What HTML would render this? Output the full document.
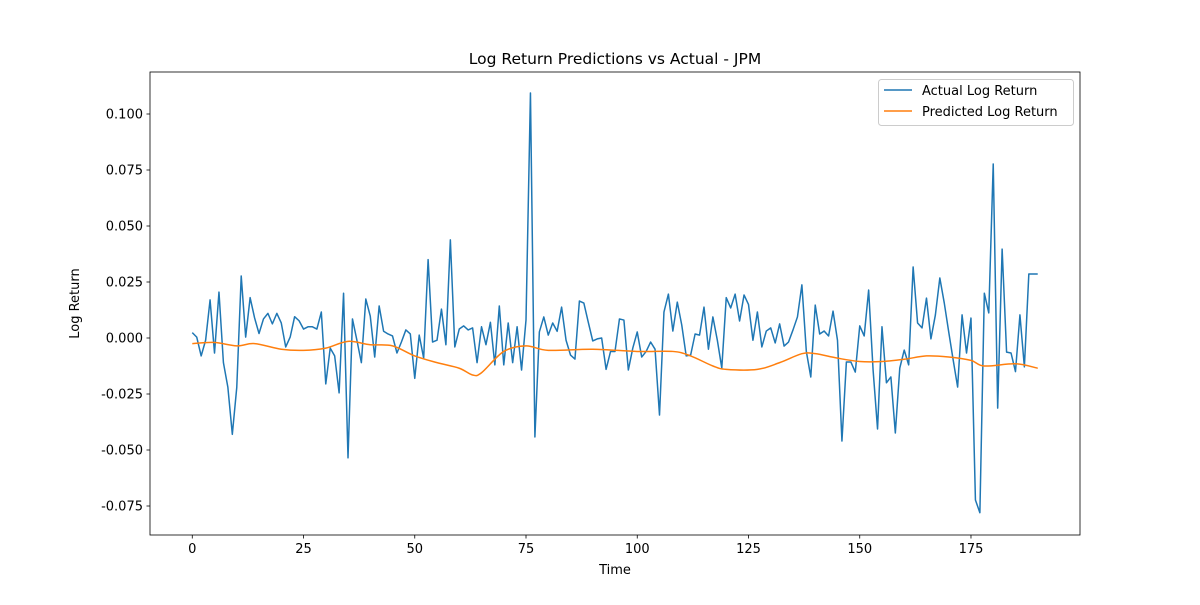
<!DOCTYPE html>
<html><head><meta charset="utf-8"><style>
body{margin:0;background:#fff;}
svg text{font-family:"DejaVu Sans","Liberation Sans",sans-serif;fill:#000;}
</style></head><body>
<svg id="chart" width="1200" height="600" xmlns="http://www.w3.org/2000/svg">
<rect width="1200" height="600" fill="#fff"/>
<g id="plot"></g>
</svg>
<script>
const actual = [0.0024,0.0004,-0.008,-0.001,0.017,-0.0067,0.0205,-0.011,-0.022,-0.043,-0.022,0.0277,0.0004,0.018,0.009,0.002,0.0085,0.011,0.0063,0.011,
0.0067,-0.004,0.0004,0.0095,0.0077,0.004,0.005,0.005,0.004,0.0116,-0.0205,-0.0045,-0.008,-0.0245,0.020,-0.0535,0.0085,-0.001,-0.011,0.0174,
0.0098,-0.0085,0.0143,0.003,0.0018,0.0009,-0.0067,-0.0018,0.0036,0.0018,-0.018,0.0013,-0.009,0.035,-0.0018,-0.001,0.0129,-0.003,0.0438,-0.004,
0.004,0.0054,0.0036,0.0045,-0.011,0.005,-0.003,0.007,-0.012,0.0143,-0.012,0.0067,-0.011,0.005,-0.0143,0.008,0.1094,-0.0442,0.0027,0.0094,
0.0013,0.0067,0.003,0.0138,-0.001,-0.0076,-0.0094,0.0165,0.0156,0.007,-0.0013,-0.0004,0,-0.014,-0.006,-0.006,0.0085,0.008,-0.0143,-0.0045,
0.0027,-0.0085,-0.006,-0.0018,-0.005,-0.0344,0.0116,0.0196,0.0031,0.016,0.0058,-0.008,-0.0076,0.0018,0.0013,0.0138,-0.005,0.0094,-0.001,-0.0134,
0.018,0.0134,0.0196,0.0076,0.0192,0.015,-0.001,0.0116,-0.004,0.0031,0.0045,-0.0022,0.0063,-0.0036,-0.0018,0.0036,0.0094,0.0237,-0.006,-0.0174,
0.0147,0.0018,0.0031,0.0009,0.012,-0.001,-0.046,-0.0107,-0.0107,-0.0152,0.0054,0.0009,0.0214,-0.0143,-0.0406,0.005,-0.02,-0.0174,-0.0424,-0.0134,
-0.0054,-0.012,0.0317,0.0067,0.0045,0.0178,-0.0004,0.0103,0.0268,0.0156,0.0027,-0.0098,-0.0219,0.0103,-0.0067,0.0089,-0.0723,-0.078,0.020,0.0112,
0.0777,-0.0313,0.0397,-0.0063,-0.0067,-0.015,0.0103,-0.0129,0.0286,0.0286,0.0286];
const predIdx = [0,5,10,14,20,25,30,35,40,45,50,55,60,63,65,70,75,80,90,100,108,112,117,120,127,132,137,140,145,150,155,160,165,170,175,178,185,190];
const predVal = [-0.0025,-0.002,-0.0035,-0.0025,-0.005,-0.0055,-0.0045,-0.0015,-0.003,-0.0035,-0.008,-0.011,-0.0135,-0.0165,-0.0155,-0.006,-0.0035,-0.0055,-0.005,-0.006,-0.006,-0.008,-0.0125,-0.014,-0.014,-0.011,-0.007,-0.007,-0.009,-0.0105,-0.0105,-0.0095,-0.008,-0.0085,-0.01,-0.0125,-0.0115,-0.0135];
const xTicks = [0,25,50,75,100,125,150,175];
const yTicks = [-0.075,-0.050,-0.025,0.000,0.025,0.050,0.075,0.100];

const L=150,R=1080,T=72,B=535;
const n=actual.length-1;
const x0=-0.05*n, x1=n*1.05;
const X=v=>L+(v-x0)/(x1-x0)*(R-L);
const Y=v=>338-v*2240;
const NS="http://www.w3.org/2000/svg";
const g=document.getElementById('plot');
function mk(tag,attrs,parent){const e=document.createElementNS(NS,tag);for(const k in attrs)e.setAttribute(k,attrs[k]);(parent||g).appendChild(e);return e;}

// series
let d=actual.map((v,i)=>(i?'L':'M')+X(i).toFixed(2)+' '+Y(v).toFixed(2)).join(' ');
const la=mk('path',{d:d,fill:'none',stroke:'#1f77b4','stroke-width':1.5,'stroke-linejoin':'round'});


// smooth predicted (catmull-rom)
const pts=predIdx.map((i,k)=>[X(i),Y(predVal[k])]);
let pd='M'+pts[0][0]+' '+pts[0][1];
for(let k=0;k<pts.length-1;k++){const p0=pts[Math.max(0,k-1)],p1=pts[k],p2=pts[k+1],p3=pts[Math.min(pts.length-1,k+2)];
pd+=` C${p1[0]+(p2[0]-p0[0])/6} ${p1[1]+(p2[1]-p0[1])/6} ${p2[0]-(p3[0]-p1[0])/6} ${p2[1]-(p3[1]-p1[1])/6} ${p2[0]} ${p2[1]}`;}
const lp=mk('path',{d:pd,fill:'none',stroke:'#ff7f0e','stroke-width':1.5});



// frame
const fr=mk('rect',{x:L,y:T,width:R-L,height:B-T,fill:'none',stroke:'#000','stroke-width':0.8});



xTicks.forEach(t=>{const px=X(t);
mk('line',{x1:px,x2:px,y1:B,y2:B+3.5,stroke:'#000','stroke-width':0.8});
const tx=mk('text',{x:px,y:B+18,'text-anchor':'middle','font-size':'13'});tx.textContent=t;

});
yTicks.forEach(t=>{const py=Y(t);
mk('line',{x1:L-3.5,x2:L,y1:py,y2:py,stroke:'#000','stroke-width':0.8});
const tx=mk('text',{x:L-7,y:py+4.5,'text-anchor':'end','font-size':'13'});tx.textContent=t.toFixed(3);

});

const ti=mk('text',{x:(L+R)/2,y:64,'text-anchor':'middle','font-size':'15.5'});ti.textContent='Log Return Predictions vs Actual - JPM';


const xl=mk('text',{x:(L+R)/2,y:574,'text-anchor':'middle','font-size':'13'});xl.textContent='Time';


const yl=mk('text',{x:0,y:0,'text-anchor':'middle','font-size':'13',transform:`translate(79,${(T+B)/2}) rotate(-90)`});yl.textContent='Log Return';



// legend
const lg=mk('g',{});


mk('rect',{x:878.5,y:79.5,width:195,height:46,rx:3,fill:'#fff',stroke:'#ccc'},lg);
mk('line',{x1:884,x2:912,y1:90,y2:90,stroke:'#1f77b4','stroke-width':1.5},lg);
const t1=mk('text',{x:922,y:95,'font-size':'13'},lg);t1.textContent='Actual Log Return';


mk('line',{x1:884,x2:912,y1:111,y2:111,stroke:'#ff7f0e','stroke-width':1.5},lg);
const t2=mk('text',{x:922,y:116,'font-size':'13'},lg);t2.textContent='Predicted Log Return';


</script>
</body></html>
